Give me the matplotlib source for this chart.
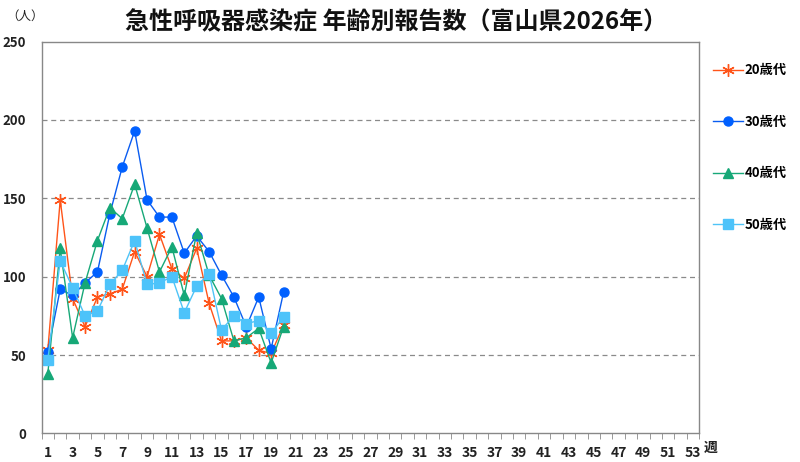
import matplotlib
matplotlib.use("Agg")
import matplotlib.pyplot as plt
import numpy as np

plt.rcParams['font.family'] = ['Noto Sans CJK JP', 'DejaVu Sans']

# weekly reports, weeks 1-20 of 2026
weeks = list(range(1, 21))
age20 = [53, 149, 86, 68, 87, 89, 92, 116, 100, 127, 105, 99, 118, 83, 59, 59, 61, 53, 51, 69]
age30 = [52, 92, 88, 96, 103, 140, 170, 193, 149, 138, 138, 115, 126, 116, 101, 87, 68, 87, 54, 90]
age40 = [38, 118, 61, 96, 123, 144, 137, 159, 131, 103, 119, 88, 128, 101, 86, 59, 61, 67, 45, 68]
age50 = [47, 110, 93, 75, 78, 95, 104, 123, 95, 96, 100, 77, 94, 102, 66, 75, 70, 72, 64, 74]
labels = ['20歳代', '30歳代', '40歳代', '50歳代']
yticks = [0, 50, 100, 150, 200, 250]

fig = plt.figure(figsize=(8, 4.62), dpi=100)
ax = fig.add_axes([0.052, 0.062, 0.822, 0.848])

lw = 1.0
ax.plot(weeks, age20, color='#FF5419', lw=lw, marker=(6, 2, 0), ms=9, mew=1.0, label=labels[0])
ax.plot(weeks, age30, color='#0A5CF0', lw=lw, marker='o', ms=6.5, mfc='#0060FF', mec='#0060FF', label=labels[1])
ax.plot(weeks, age40, color='#17A878', lw=lw, marker='^', ms=7, mfc='#16A877', mec='#16A877', label=labels[2])
ax.plot(weeks, age50, color='#4FC4F7', lw=lw, marker='s', ms=6.5, mfc='#4DC3FA', mec='#4DC3FA', label=labels[3])

ax.set_xlim(0.5, 53.5)
ax.set_ylim(0, 250)
ax.set_yticks(yticks)
ax.set_xticks(range(1, 54, 2))
ax.set_xticks(np.arange(0.5, 54, 1), minor=True)
ax.tick_params(axis='x', which='major', length=0, pad=9, labelsize=10)
ax.tick_params(axis='x', which='minor', length=4, color='#888888', direction='out')
ax.tick_params(axis='y', length=0, pad=11, labelsize=9.5)
for t in ax.get_xticklabels() + ax.get_yticklabels():
    t.set_fontweight('bold')
    t.set_color('#222222')

for y in yticks[1:-1]:
    ax.axhline(y, color='#8A8A8A', lw=0.9, ls=(0, (4, 3)), zorder=0)
for s in ax.spines.values():
    s.set_color('#888888')
    s.set_linewidth(1.0)

fig.text(0.495, 0.952, '急性呼吸器感染症 年齢別報告数（富山県2026年）', ha='center', va='center',
         fontsize=17.3, fontweight='bold', color='#111111')
fig.text(0.031, 0.965, '（人）', ha='center', va='center', fontsize=9, color='#222222')
fig.text(0.879, 0.031, '週', ha='left', va='center', fontsize=10, fontweight='bold', color='#222222')

leg = fig.legend(loc='upper left', bbox_to_anchor=(0.876, 0.889), frameon=False,
                 handlelength=2.3, handletextpad=0.1, labelspacing=2.85,
                 prop={'size': 9.5, 'weight': 'bold'})

fig.savefig('out.png', dpi=100)
